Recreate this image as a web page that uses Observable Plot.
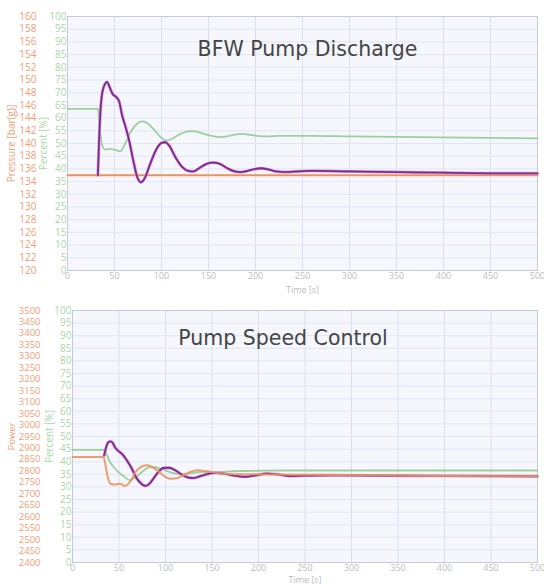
<!DOCTYPE html>
<html><head><meta charset="utf-8">
<script src="https://cdn.jsdelivr.net/npm/d3@7"></script>
<script src="https://cdn.jsdelivr.net/npm/@observablehq/plot@0.6"></script>
<style>
body{margin:0;background:#fff;}
#c{width:544px;}
#c svg{display:block;}
</style></head><body><div id="c"></div>
<script>
// ---------- Chart 1: BFW Pump Discharge ----------
const title1 = "BFW Pump Discharge";
// pressure setpoint [bar(g)]
const t1Orange = [0, 100, 200, 300, 400, 500];
const v1Orange = [135, 135, 135, 135, 135, 135];
// pressure response [bar(g)]
const t1Purple = [32.3, 33.5, 35, 37, 40, 42, 45, 48, 52, 55, 58, 62, 66, 70, 74, 78, 82, 88, 95, 100, 104, 108, 115, 122, 128, 134, 140, 148, 155, 162, 170, 178, 184, 192, 200, 206, 214, 222, 233, 245, 260, 300, 350, 400, 450, 500];
const v1Purple = [135, 140, 145, 148, 149.4, 149.7, 148.8, 147.8, 147.3, 146.6, 144.5, 142.5, 140.2, 137.3, 134.8, 133.9, 134.5, 136.8, 139.2, 140.1, 140.2, 139.7, 137.8, 136.3, 135.7, 135.6, 136.1, 136.8, 137.0, 136.8, 136.1, 135.6, 135.5, 135.7, 136.0, 136.1, 135.9, 135.6, 135.5, 135.6, 135.7, 135.6, 135.5, 135.4, 135.3, 135.3];
// valve opening [%]
const t1Green = [0, 32.5, 33.5, 35, 36.5, 38, 41, 45, 50, 56, 62, 68, 74, 79.4, 85, 92, 99, 105.3, 112, 120, 127, 132.6, 140, 150, 161, 170, 178, 185.8, 195, 204, 212.4, 225, 240, 260, 300, 350, 400, 450, 500];
const v1Green = [63.6, 63.6, 60, 54, 50, 48.2, 47.6, 47.9, 47.6, 46.9, 50.5, 55, 57.8, 58.7, 58, 55.5, 52.5, 51.2, 52, 53.8, 54.7, 54.9, 54.4, 53.3, 52.5, 52.8, 53.5, 53.8, 53.4, 52.9, 52.8, 53.0, 53.0, 53.0, 52.8, 52.6, 52.4, 52.2, 52.0];

// ---------- Chart 2: Pump Speed Control ----------
const title2 = "Pump Speed Control";
// power
const t2Orange = [0, 33.3, 35, 37, 40.5, 44, 51, 56.7, 60, 63.9, 67, 71, 75, 80, 85, 90.8, 97, 105, 112, 120, 126.6, 134, 145, 160, 175, 190, 220, 260, 320, 400, 500];
const v2Orange = [2860, 2860, 2835, 2790, 2744, 2740, 2744, 2734, 2743, 2766, 2790, 2809, 2820, 2824, 2818, 2803, 2782, 2766, 2768, 2783, 2795, 2803, 2798, 2788, 2785, 2785, 2784, 2783, 2781, 2778, 2776];
// speed [%]
const t2Purple = [34, 36, 38, 40.5, 43, 46, 49.5, 54, 58.5, 63.9, 68, 73, 78.2, 82, 87, 92, 97.8, 104, 110.4, 117, 124.7, 130, 137, 145, 153.4, 162, 172, 185.7, 197, 209, 220, 234, 250, 280, 320, 380, 440, 500];
const v2Purple = [42.5, 45.5, 47.5, 48.1, 47.6, 45.5, 44.2, 42.8, 40.5, 37.2, 34.0, 31.6, 30.4, 31.0, 33.3, 35.8, 37.5, 37.6, 36.6, 35.0, 33.7, 33.5, 34.2, 35.1, 35.6, 35.3, 34.6, 34.0, 34.6, 35.3, 35.0, 34.3, 34.5, 34.6, 34.5, 34.4, 34.3, 34.2];
// percent [%]
const t2Green = [0, 34, 37, 40.5, 45, 49.5, 55, 62, 67, 72.8, 78, 83.5, 89, 94.3, 101, 108.6, 119, 130, 140, 151, 165, 180, 200, 230, 270, 320, 400, 500];
const v2Green = [44.7, 44.7, 42.5, 39.8, 37.6, 35.9, 34.2, 32.6, 33.6, 35.3, 36.9, 37.9, 37.8, 37.2, 36.4, 35.5, 35.0, 35.6, 36.0, 35.8, 36.1, 36.3, 36.4, 36.5, 36.5, 36.5, 36.5, 36.5];

// axis ticks
const pctTicks = d3.range(0, 101, 5);
const pressureTicks = d3.range(120, 161, 2);
const powerTicks = d3.range(2400, 3501, 50);
const timeTicks = d3.range(0, 501, 50);

const ORANGE = "#ec925f", GREEN = "#9dcf9d", PURPLE = "#86288f";
const ORANGE_TXT = "#ee9e76", GREEN_TXT = "#a9d6a9";

const pToPct = p => (p - 120) / 0.4;
const wToPct = w => (w - 2400) / 11;

function chart(o) {
  return Plot.plot({
    width: 544, height: o.height,
    marginLeft: o.marginLeft, marginRight: 7, marginTop: o.marginTop, marginBottom: o.marginBottom,
    style: {fontFamily: "'Open Sans', sans-serif", background: "transparent", overflow: "visible"},
    x: {domain: [0, 500]},
    y: {domain: [0, 100]},
    marks: [
      Plot.frame({fill: "#f5f7fd", stroke: null}),
      Plot.gridX(timeTicks, {stroke: "#d9dff0", strokeOpacity: 1}),
      Plot.gridY(pctTicks, {stroke: "#e0e5f3", strokeOpacity: 1}),
      Plot.axisY(pctTicks, {tickSize: 0, tickPadding: 1, fontSize: 10, color: GREEN_TXT,
        label: "Percent [%]", labelAnchor: "center", labelOffset: o.pctOffset, labelArrow: "none"}),
      Plot.axisY(o.leftTicks.map(o.toPct), {tickSize: 0, tickPadding: o.leftPad, fontSize: o.leftFont, color: ORANGE_TXT,
        tickFormat: o.leftFmt, label: o.leftLabel, labelAnchor: "center", labelOffset: o.leftOffset, labelArrow: "none"}),
      Plot.axisX(timeTicks, {tickSize: 0, tickPadding: 2, fontSize: 9, color: "#bdbdbd",
        label: "Time [s]", labelAnchor: "center", labelOffset: o.timeOffset, labelArrow: "none"}),
      Plot.frame({stroke: "#c6cad6"}),
      ...o.lines,
      Plot.text([o.title], {text: d => d, frameAnchor: "top", dx: o.titleDx, dy: o.titleDy, lineAnchor: "middle",
        fontSize: 20.5, fontFamily: "'DejaVu Sans', sans-serif", fill: "#454545"})
    ]
  });
}

const c1 = chart({
  height: 296, marginLeft: 67, marginTop: 16, marginBottom: 26,
  pctOffset: 28, leftPad: 31, leftOffset: 60, timeOffset: 22, leftFont: 10,
  leftTicks: pressureTicks, toPct: pToPct,
  leftFmt: d => String(Math.round(120 + d * 0.4)), leftLabel: "Pressure [bar(g)]",
  title: title1, titleDx: 5, titleDy: 33,
  lines: [
    Plot.line(v1Green, {x: (_, i) => t1Green[i], y: d => d, stroke: GREEN, strokeWidth: 1.8, curve: "monotone-x"}),
    Plot.line(v1Orange, {x: (_, i) => t1Orange[i], y: pToPct, stroke: ORANGE, strokeWidth: 2}),
    Plot.line(v1Purple, {x: (_, i) => t1Purple[i], y: pToPct, stroke: "#c99dd2", strokeWidth: 3, curve: "monotone-x"}),
    Plot.line(v1Purple, {x: (_, i) => t1Purple[i], y: pToPct, stroke: PURPLE, strokeWidth: 1.8, curve: "monotone-x"})
  ]
});

const c2 = chart({
  height: 288, marginLeft: 72, marginTop: 14, marginBottom: 22,
  pctOffset: 27, leftPad: 32, leftOffset: 64, timeOffset: 20, leftFont: 9.5,
  leftTicks: powerTicks, toPct: wToPct,
  leftFmt: d => String(Math.round(2400 + d * 11)), leftLabel: "Power",
  title: title2, titleDx: -22, titleDy: 28,
  lines: [
    Plot.line(v2Green, {x: (_, i) => t2Green[i], y: d => d, stroke: GREEN, strokeWidth: 1.8, curve: "monotone-x"}),
    Plot.line(v2Purple, {x: (_, i) => t2Purple[i], y: d => d, stroke: "#c99dd2", strokeWidth: 3, curve: "monotone-x"}),
    Plot.line(v2Purple, {x: (_, i) => t2Purple[i], y: d => d, stroke: PURPLE, strokeWidth: 1.8, curve: "monotone-x"}),
    Plot.line(v2Orange, {x: (_, i) => t2Orange[i], y: wToPct, stroke: ORANGE, strokeWidth: 2, strokeOpacity: 0.9, curve: "monotone-x"})
  ]
});

document.getElementById("c").append(c1, c2);
</script>
</body></html>
